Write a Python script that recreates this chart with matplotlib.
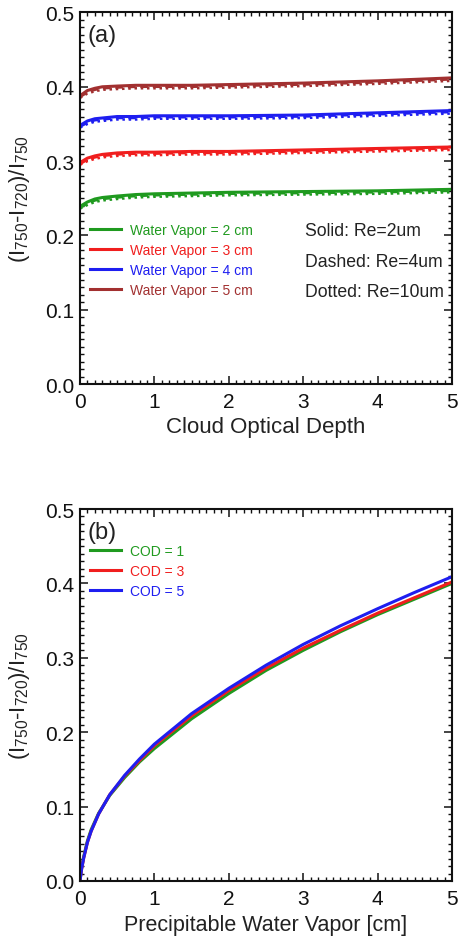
import matplotlib
matplotlib.use("Agg")
import matplotlib.pyplot as plt
from matplotlib.ticker import MultipleLocator
from matplotlib.lines import Line2D

plt.rcParams['font.family'] = ['Liberation Sans', 'DejaVu Sans']
plt.rcParams['mathtext.default'] = 'regular'

# ---------------- data: panel (a) ----------------
cod = [0, 0.1, 0.2, 0.3, 0.5, 0.75, 1, 1.5, 2, 3, 4, 5]
wv_labels = ['Water Vapor = 2 cm', 'Water Vapor = 3 cm', 'Water Vapor = 4 cm', 'Water Vapor = 5 cm']
wv_colors = ['#1f9a1f', '#f01e1e', '#1e1ef0', '#a23030']

re2_wv2 = [0.239, 0.245, 0.249, 0.251, 0.253, 0.255, 0.256, 0.257, 0.258, 0.259, 0.260, 0.262]
re2_wv3 = [0.298, 0.304, 0.307, 0.309, 0.311, 0.312, 0.312, 0.313, 0.313, 0.315, 0.317, 0.319]
re2_wv4 = [0.348, 0.354, 0.357, 0.358, 0.360, 0.360, 0.361, 0.361, 0.361, 0.362, 0.365, 0.368]
re2_wv5 = [0.388, 0.395, 0.398, 0.400, 0.401, 0.402, 0.402, 0.402, 0.403, 0.405, 0.408, 0.412]

re4_wv2 = [0.237, 0.243, 0.247, 0.249, 0.251, 0.253, 0.254, 0.255, 0.256, 0.257, 0.258, 0.260]
re4_wv3 = [0.296, 0.302, 0.305, 0.307, 0.309, 0.310, 0.310, 0.311, 0.311, 0.313, 0.315, 0.317]
re4_wv4 = [0.346, 0.352, 0.355, 0.356, 0.358, 0.358, 0.359, 0.359, 0.359, 0.360, 0.363, 0.366]
re4_wv5 = [0.386, 0.393, 0.396, 0.398, 0.399, 0.400, 0.400, 0.400, 0.401, 0.403, 0.406, 0.410]

re10_wv2 = [0.236, 0.241, 0.245, 0.247, 0.249, 0.251, 0.252, 0.253, 0.254, 0.255, 0.256, 0.258]
re10_wv3 = [0.295, 0.300, 0.303, 0.305, 0.307, 0.308, 0.308, 0.309, 0.309, 0.311, 0.313, 0.315]
re10_wv4 = [0.345, 0.350, 0.353, 0.354, 0.356, 0.356, 0.357, 0.357, 0.357, 0.358, 0.361, 0.364]
re10_wv5 = [0.385, 0.391, 0.394, 0.396, 0.397, 0.398, 0.398, 0.398, 0.399, 0.401, 0.404, 0.408]

# ---------------- data: panel (b) ----------------
pwv = [0, 0.02, 0.05, 0.1, 0.15, 0.25, 0.4, 0.6, 0.8, 1, 1.5, 2, 2.5, 3, 3.5, 4, 4.5, 5]
cod_labels = ['COD = 1', 'COD = 3', 'COD = 5']
cod_colors = ['#1f9a1f', '#f01e1e', '#1e1ef0']
cod1 = [0, 0.017, 0.033, 0.054, 0.069, 0.091, 0.115, 0.139, 0.160, 0.178, 0.218, 0.252, 0.283, 0.310, 0.335, 0.358, 0.379, 0.400]
cod3 = [0, 0.015, 0.031, 0.052, 0.067, 0.090, 0.116, 0.141, 0.162, 0.182, 0.222, 0.256, 0.286, 0.313, 0.337, 0.360, 0.381, 0.402]
cod5 = [0, 0.015, 0.031, 0.052, 0.067, 0.090, 0.116, 0.142, 0.164, 0.184, 0.225, 0.259, 0.290, 0.318, 0.343, 0.366, 0.388, 0.409]

ylabel = '(I$_{750}$-I$_{720}$)/I$_{750}$'

fig = plt.figure(figsize=(4.61, 9.37), dpi=100)
ax1 = fig.add_axes([0.1735, 0.5891, 0.807, 0.3965])
ax2 = fig.add_axes([0.1735, 0.0587, 0.807, 0.397])


def style(ax):
    ax.set_xlim(0, 5)
    ax.set_ylim(0, 0.5)
    ax.xaxis.set_major_locator(MultipleLocator(1))
    ax.xaxis.set_minor_locator(MultipleLocator(0.1))
    ax.yaxis.set_major_locator(MultipleLocator(0.1))
    ax.yaxis.set_minor_locator(MultipleLocator(0.01))
    ax.xaxis.set_major_formatter(plt.FuncFormatter(lambda v, p: f'{v:.0f}'))
    ax.yaxis.set_major_formatter(plt.FuncFormatter(lambda v, p: f'{v:.1f}'))
    ax.tick_params(which='both', direction='in', top=True, right=True, colors='#111111')
    ax.tick_params(which='major', length=6, width=1.1, labelsize=15, pad=4)
    ax.tick_params(axis='x', which='major', pad=6)
    ax.tick_params(which='minor', length=3, width=1.0)
    for s in ax.spines.values():
        s.set_linewidth(1.5)
        s.set_color('#111111')
    ax.set_ylabel(ylabel, fontsize=16, color='#222222')
    ax.yaxis.set_label_coords(-0.128, 0.5)


style(ax1)
style(ax2)

# panel (a)
solid = [re2_wv2, re2_wv3, re2_wv4, re2_wv5]
dashed = [re4_wv2, re4_wv3, re4_wv4, re4_wv5]
dotted = [re10_wv2, re10_wv3, re10_wv4, re10_wv5]
handles = []
for s, d, t, c, lab in zip(solid, dashed, dotted, wv_colors, wv_labels):
    ax1.plot(cod, t, color=c, lw=1.8, ls=(0, (1, 1.5)))
    ax1.plot(cod, d, color=c, lw=1.8, ls=(0, (3, 2)))
    ax1.plot(cod, s, color=c, lw=2.2, solid_capstyle='butt')
    handles.append(Line2D([], [], color=c, lw=2.2, label=lab))

ax1.legend(handles=handles, loc='center left', bbox_to_anchor=(0.027, 0.334),
           frameon=False, fontsize=10, handlelength=2.2, handletextpad=0.7,
           labelspacing=0.42, borderpad=0, borderaxespad=0, labelcolor='linecolor')
for txt, yy in zip(['Solid: Re=2um', 'Dashed: Re=4um', 'Dotted: Re=10um'], [0.4145, 0.331, 0.250]):
    ax1.text(0.605, yy, txt, transform=ax1.transAxes, fontsize=12.7, va='center', ha='left', color='#222222')
ax1.text(0.019, 0.939, '(a)', transform=ax1.transAxes, fontsize=17, va='center', ha='left', color='#222222')
ax1.set_xlabel('Cloud Optical Depth', fontsize=16, labelpad=3, color='#222222')

# panel (b)
handles2 = []
for v, c, lab in zip([cod1, cod3, cod5], cod_colors, cod_labels):
    ax2.plot(pwv, v, color=c, lw=2.2)
    handles2.append(Line2D([], [], color=c, lw=2.2, label=lab))
ax2.legend(handles=handles2, loc='center left', bbox_to_anchor=(0.027, 0.833),
           frameon=False, fontsize=10, handlelength=2.2, handletextpad=0.7,
           labelspacing=0.42, borderpad=0, borderaxespad=0, labelcolor='linecolor')
ax2.text(0.019, 0.938, '(b)', transform=ax2.transAxes, fontsize=17, va='center', ha='left', color='#222222')
ax2.set_xlabel('Precipitable Water Vapor [cm]', fontsize=15.5, labelpad=4, color='#222222')

fig.savefig('out.png', dpi=100)
